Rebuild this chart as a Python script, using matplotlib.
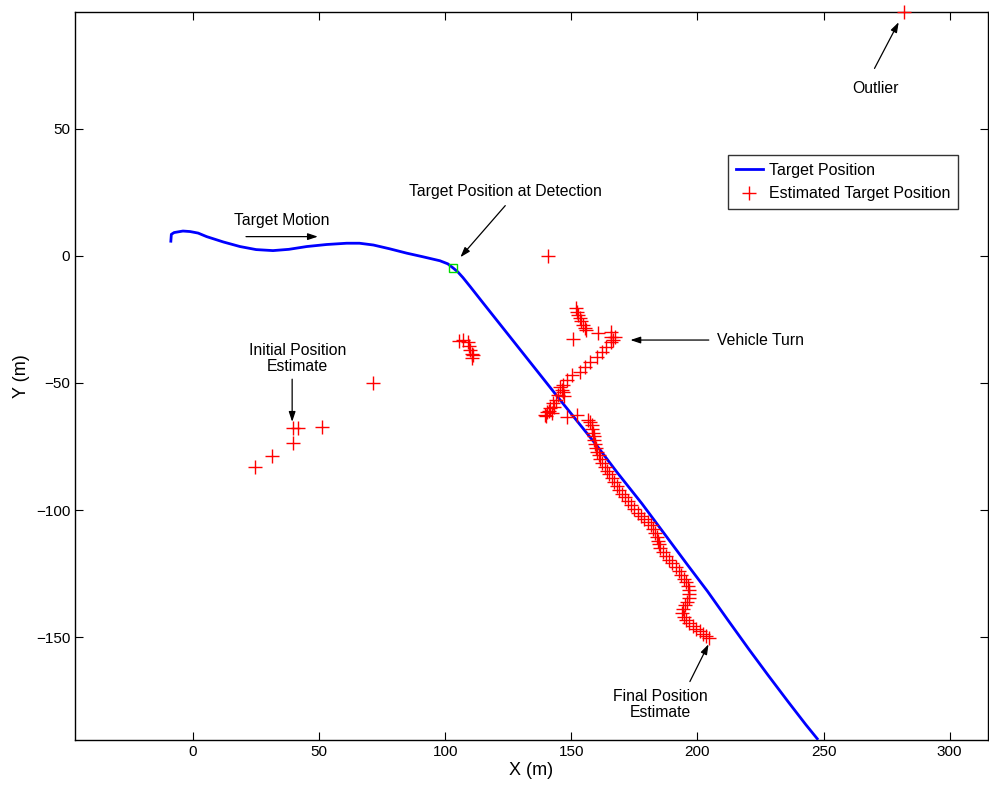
import matplotlib
matplotlib.use("Agg")
import matplotlib.pyplot as plt

plt.rcParams['font.family'] = ['Liberation Sans', 'DejaVu Sans']

# True target trajectory
traj_x = [-8.8, -8.6, -7.5, -4.0, -1.2, 2.0, 5.4, 12.0, 18.6, 25.0, 31.7, 38.0, 45.1, 53.0,
          60.9, 66.0, 71.5, 78.0, 84.7, 91.0, 97.9, 101.0, 103.2, 105.0, 107.0, 110.0, 115.0,
          125.0, 135.0, 145.0, 152.3, 160.0, 168.0, 178.0, 187.0, 196.0, 204.0, 212.0, 220.4,
          228.0, 236.0, 243.0, 247.5]
traj_y = [5.8, 8.5, 9.2, 9.8, 9.6, 9.0, 7.6, 5.5, 3.7, 2.5, 2.1, 2.6, 3.7, 4.5,
          5.0, 5.0, 4.3, 2.8, 1.1, -0.3, -1.9, -3.1, -4.8, -6.3, -8.5, -12.2, -18.5,
          -31.0, -43.5, -56.0, -65.0, -74.5, -85.0, -97.5, -109.5, -121.5, -132.0, -143.2, -154.8,
          -165.0, -175.5, -184.5, -190.0]

# Detection point
det_x = [103.2]
det_y = [-4.8]

# Estimated target positions
est_x = [
    # initial estimates
    24.6, 31.2, 39.8, 39.8, 41.8, 51.0, 71.5,
    # cluster near x~108
    105.5, 107.0, 109.0, 109.5, 110.0, 110.5, 110.5, 111.0,
    # isolated
    140.7,
    # upper branch of turn
    152.0, 152.2, 152.8, 153.3, 154.0, 154.6, 155.3, 155.9, 150.7, 160.7, 165.9, 165.9, 167.3, 166.6,
    # lower branch of turn
    165.9, 163.9, 162.0, 160.0, 157.4, 155.4, 153.4, 150.1, 148.1, 146.8, 146.1, 144.8, 144.1,
    142.8, 141.5, 140.2, 139.5, 145.5, 146.5, 147.2, 143.0, 141.0, 140.0, 142.5,
    148.1, 152.1,
    # main band
    156.5, 157.5, 158.0, 158.3, 158.5, 158.8, 159.0, 159.3, 159.7, 160.2, 160.8, 161.5, 162.3,
    163.2, 164.0, 165.0, 166.0, 167.0, 168.0, 169.0, 170.2, 171.3, 172.5, 173.8, 175.0, 176.3,
    177.6, 179.0, 180.3, 181.5, 182.5, 183.2, 183.8, 184.3, 184.8, 185.3, 186.3, 187.5, 188.8,
    190.0, 191.3, 192.5, 193.6, 194.6, 195.5, 196.2, 196.7, 196.8, 196.5, 195.8, 195.0, 194.3,
    194.0, 194.5, 195.5, 196.8, 198.2, 199.6, 201.0, 202.3, 203.5, 204.5,
    # outlier
    282.0,
]
est_y = [
    -83.0, -78.7, -67.9, -73.7, -67.9, -67.2, -49.9,
    -33.5, -33.2, -34.0, -35.5, -37.0, -38.5, -40.0, -39.0,
    0.0,
    -20.5, -22.0, -23.3, -24.5, -25.8, -27.0, -28.2, -29.3, -32.7, -30.4, -29.8, -31.8, -31.8, -33.1,
    -33.7, -35.7, -37.7, -39.6, -41.6, -43.6, -45.5, -46.9, -48.8, -50.8, -52.8, -54.7, -56.7,
    -58.0, -60.0, -61.3, -62.6, -51.5, -53.5, -55.0, -59.5, -61.0, -63.0, -62.0,
    -63.3, -62.6,
    -64.5, -65.5, -66.5, -68.0, -69.5, -71.0, -72.5, -74.0, -75.5, -77.0, -78.5, -80.0, -81.5,
    -83.0, -84.5, -86.0, -87.5, -89.0, -90.5, -92.0, -93.5, -95.0, -96.5, -98.0, -99.5, -101.0,
    -102.3, -103.5, -104.7, -106.0, -107.5, -109.0, -110.5, -112.0, -113.5, -115.0, -116.5, -118.0, -119.5,
    -121.0, -122.5, -124.0, -125.5, -127.0, -128.5, -130.0, -131.5, -133.0, -134.5, -136.0, -137.5, -139.0,
    -140.5, -142.0, -143.3, -144.5, -145.7, -146.8, -147.8, -148.8, -149.7, -150.3,
    96.0,
]

xticks = [0, 50, 100, 150, 200, 250, 300]
yticks = [-150, -100, -50, 0, 50]

fig = plt.figure(figsize=(9.89, 7.86), dpi=100)
ax = fig.add_axes([75/989, 1-740/786, (988-75)/989, (740-12)/786])

ax.plot(traj_x, traj_y, color='blue', lw=2, label='Target Position', zorder=3)
ax.plot(est_x, est_y, linestyle='none', marker='+', color='red', markersize=10,
        markeredgewidth=1, label='Estimated Target Position', zorder=4, clip_on=False)
ax.plot(det_x, det_y, linestyle='none', marker='s', markerfacecolor='none',
        markeredgecolor='#00dd00', markersize=6, markeredgewidth=1, zorder=5)

ax.set_xlim(-46.8, 315.2)
ax.set_ylim(-190.5, 96.0)
ax.set_xticks(xticks)
ax.set_yticks(yticks)
ax.tick_params(direction='in', top=True, right=True, labelsize=11, length=6, width=0.8)
for s in ax.spines.values():
    s.set_linewidth(1.0)
ax.set_xlabel('X (m)', fontsize=13, labelpad=2)
ax.set_ylabel('Y (m)', fontsize=13, labelpad=4)

arrow = dict(arrowstyle='-|>,head_length=0.6,head_width=0.2', color='black', lw=0.9,
             shrinkA=0, shrinkB=0)
fs = 11.3

ax.text(35.3, 13.8, 'Target Motion', fontsize=fs, ha='center', va='center')
ax.annotate('', xy=(49.5, 7.6), xytext=(21.0, 7.6), arrowprops=arrow)

ax.text(123.8, 25.2, 'Target Position at Detection', fontsize=fs, ha='center', va='center')
ax.annotate('', xy=(106.0, -0.5), xytext=(123.8, 19.8), arrowprops=arrow)

ax.text(225.0, -33.1, 'Vehicle Turn', fontsize=fs, ha='center', va='center')
ax.annotate('', xy=(173.4, -33.1), xytext=(204.5, -33.1), arrowprops=arrow)

ax.text(41.3, -40.3, 'Initial Position\nEstimate', fontsize=fs, ha='center', va='center',
        linespacing=1.1)
ax.annotate('', xy=(39.3, -65.3), xytext=(39.3, -48.5), arrowprops=arrow)

ax.text(185.3, -176.5, 'Final Position\nEstimate', fontsize=fs, ha='center', va='center',
        linespacing=1.1)
ax.annotate('', xy=(204.4, -152.8), xytext=(197.0, -167.5), arrowprops=arrow)

ax.text(270.6, 65.8, 'Outlier', fontsize=fs, ha='center', va='center')
ax.annotate('', xy=(279.8, 92.0), xytext=(270.2, 73.8), arrowprops=arrow)

leg = ax.legend(loc='upper right', bbox_to_anchor=(0.967, 0.804), fontsize=11.5,
                frameon=True, fancybox=False, edgecolor='black', borderaxespad=0,
                handlelength=1.7, borderpad=0.5, labelspacing=0.55, handletextpad=0.35)
leg.get_frame().set_linewidth(1.0)

fig.savefig('out.png', dpi=100)
